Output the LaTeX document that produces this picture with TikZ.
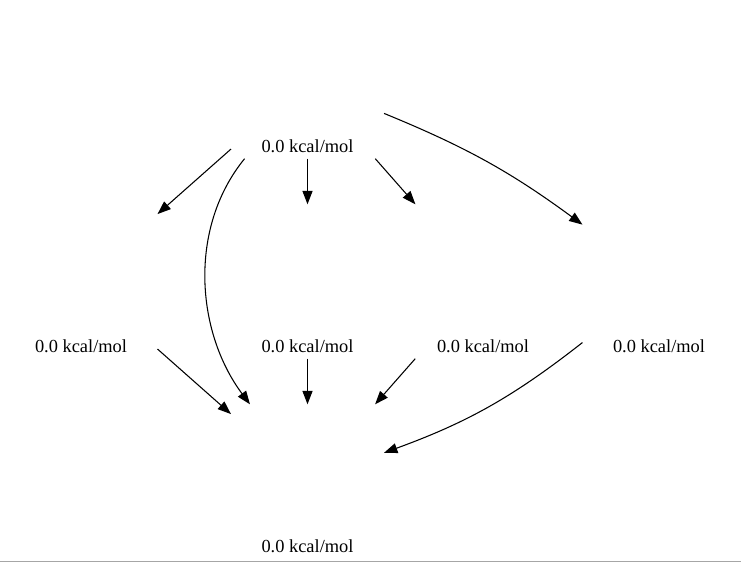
\documentclass[tikz,border=0pt]{standalone}
\usepackage{fontspec}
\setmainfont{Liberation Serif}
\usetikzlibrary{arrows.meta}

\begin{document}
\begin{tikzpicture}[x=0.75pt,y=0.75pt,->,>={Triangle[length=10pt,width=7.5pt]},line width=0.8pt]
			\tikzstyle{mol} = [rectangle,inner sep=0pt,minimum width=114pt,minimum height=115pt]
			\tikzstyle{energy} = [font=\fontsize{13.8}{16}\selectfont,anchor=base,yshift=4.5pt]
			\useasboundingbox (0,0) rectangle (741,-563);
			
			\node[mol,label={[energy]south:0.0 kcal/mol}] (start) at (307.5,-81.5) {};
			
			\node[mol,label={[energy]south:0.0 kcal/mol}] (molA) at (81,-281.5) {};
			\node[mol,label={[energy]south:0.0 kcal/mol}] (molB) at (307.5,-281.5) {};
			\node[mol,label={[energy]south:0.0 kcal/mol}] (molC) at (483,-281.5) {};
			\node[mol,label={[energy]south:0.0 kcal/mol}] (molD) at (659,-281.5) {};
			
			\node[mol,label={[energy]south:0.0 kcal/mol}] (final) at (307.5,-481.5) {};
			
			\path (start) edge (molA);
			\path (start) edge (molB);
			\path (start) edge (molC);
			\path (start) edge[bend left=7] (molD);
			\draw (start) .. controls (188,-228) and (196,-332) .. (final);
			
			\path (molA) edge (final);
			\path (molB) edge (final);
			\path (molC) edge (final);
			\path (molD) edge[bend left=9] (final);
			
			\draw[-,gray!70,line width=0.75pt] (0,-561.5) -- (741,-561.5);
		\end{tikzpicture}
\end{document}
